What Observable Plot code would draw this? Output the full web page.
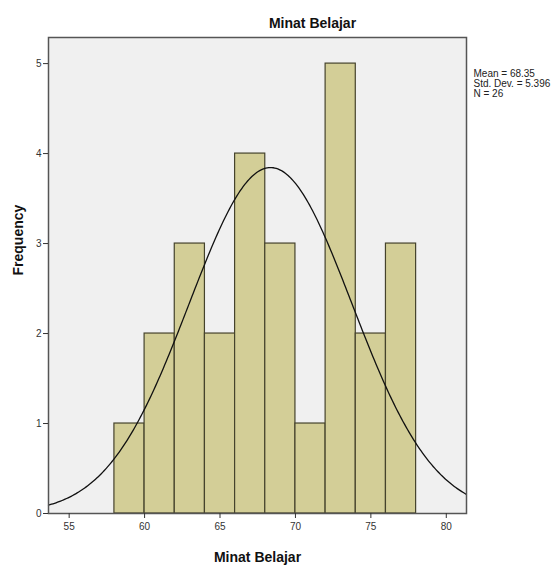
<!DOCTYPE html>
<html>
<head>
<meta charset="utf-8">
<script src="https://cdn.jsdelivr.net/npm/d3@7"></script>
<script src="https://cdn.jsdelivr.net/npm/@observablehq/plot@0.6"></script>
<style>
  body { margin: 0; background: #fff; }
  svg { font-family: "Liberation Sans", Arial, sans-serif; }
</style>
</head>
<body>
<div id="chart"></div>
<script>
// Bin edges and frequencies
const binStart = [58, 60, 62, 64, 66, 68, 70, 72, 74, 76];
const binEnd   = [60, 62, 64, 66, 68, 70, 72, 74, 76, 78];
const frequency = [1, 2, 3, 2, 4, 3, 1, 5, 2, 3];

// Summary statistics printed in the chart
const meanValue = 68.35;
const stdDev = 5.396;
const nCount = 26;
const binWidth = 2;

const xTicks = [55, 60, 65, 70, 75, 80];
const yTicks = [0, 1, 2, 3, 4, 5];
const xDomain = [53.63, 81.34];
const yDomain = [0, 5.29];

const bins = binStart.map((s, i) => ({x1: s, x2: binEnd[i], y: frequency[i]}));

// Fitted normal curve defined by the displayed mean / std. dev. / N
const curveX = d3.range(xDomain[0], xDomain[1] + 0.001, 0.1);
const curve = curveX.map(x => ({
  x,
  y: nCount * binWidth * Math.exp(-0.5 * ((x - meanValue) / stdDev) ** 2) / (stdDev * Math.sqrt(2 * Math.PI))
}));

const legendLines = [
  "Mean = " + meanValue,
  "Std. Dev. = " + stdDev,
  "N = " + nCount
];

const legendFont = "'Liberation Sans Narrow', 'Liberation Sans', sans-serif";

const chart = Plot.plot({
  width: 559,
  height: 565,
  marginLeft: 48,
  marginRight: 93,
  marginTop: 37,
  marginBottom: 52,
  x: {domain: xDomain},
  y: {domain: yDomain},
  style: {background: "#fff", overflow: "visible"},
  marks: [
    Plot.frame({fill: "#f0f0f0", stroke: null}),
    Plot.rectY(bins, {x1: "x1", x2: "x2", y: "y", fill: "#d3ce97", stroke: "#45432c", strokeWidth: 1.2, inset: 0}),
    Plot.line(curve, {x: "x", y: "y", stroke: "#111", strokeWidth: 1.3}),
    Plot.frame({stroke: "#555", strokeWidth: 1.5}),
    Plot.axisX({ticks: xTicks, tickSize: 5, tickPadding: 4, label: null, fontSize: 10, color: "#333", tickFormat: "d"}),
    Plot.axisY({ticks: yTicks, tickSize: 5, tickPadding: 2, label: null, fontSize: 10, color: "#333", tickFormat: "d"}),
    Plot.text(["Minat Belajar"], {frameAnchor: "top", dx: 55, dy: -19, fontSize: 14, fontWeight: "bold", fill: "#111"}),
    Plot.text(["Minat Belajar"], {frameAnchor: "bottom", dy: 48, fontSize: 14, fontWeight: "bold", fill: "#111"}),
    Plot.text(["Frequency"], {frameAnchor: "left", dx: -30, rotate: -90, fontSize: 14, fontWeight: "bold", fill: "#111"}),
    ...legendLines.map((line, i) =>
      Plot.text([line], {
        frameAnchor: "top-right", textAnchor: "start",
        dx: 7, dy: 32 + 10 * i,
        fontSize: 10, fill: "#222", fontFamily: legendFont
      })
    )
  ]
});

document.getElementById("chart").appendChild(chart);
</script>
</body>
</html>
